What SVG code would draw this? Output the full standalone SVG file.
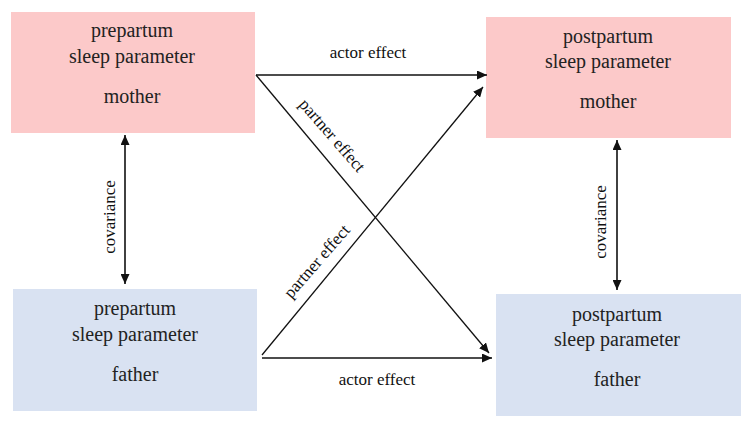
<svg xmlns="http://www.w3.org/2000/svg" width="750" height="426" viewBox="0 0 750 426">
<defs>
<style>
.bg{fill:#ffffff}
.pink{fill:#fcc9c9}
.blue{fill:#d9e2f2}
.t{font-family:'Liberation Serif','Times New Roman',serif;font-size:20px;fill:#222;text-anchor:middle}
.l{font-family:'Liberation Serif','Times New Roman',serif;font-size:17px;fill:#111;text-anchor:middle}
.c{stroke:#111;stroke-width:1.3;fill:none}
.cv{stroke:#111;stroke-width:1.6;fill:none}
</style>
<marker id="ah" viewBox="0 0 10 10" refX="10" refY="5" markerWidth="10" markerHeight="9" markerUnits="userSpaceOnUse" orient="auto-start-reverse" preserveAspectRatio="none">
<path d="M0,0 L10,5 L0,10 z" fill="#111"/>
</marker>
</defs>
<rect class="bg" x="0" y="0" width="750" height="426"/>
<g id="pre-mother">
<rect class="pink" x="11" y="12" width="244" height="121"/>
<text class="t" x="132" y="37">prepartum</text>
<text class="t" x="132" y="63">sleep parameter</text>
<text class="t" x="132" y="103">mother</text>
</g>
<g id="post-mother">
<rect class="pink" x="486" y="17" width="245" height="121"/>
<text class="t" x="608" y="43">postpartum</text>
<text class="t" x="608" y="68">sleep parameter</text>
<text class="t" x="608" y="108">mother</text>
</g>
<g id="pre-father">
<rect class="blue" x="13" y="289" width="244" height="122"/>
<text class="t" x="135" y="315">prepartum</text>
<text class="t" x="135" y="341">sleep parameter</text>
<text class="t" x="135" y="381">father</text>
</g>
<g id="post-father">
<rect class="blue" x="496" y="294" width="245" height="122"/>
<text class="t" x="617" y="321">postpartum</text>
<text class="t" x="617" y="346">sleep parameter</text>
<text class="t" x="617" y="386">father</text>
</g>
<g id="connectors">
<line class="c" x1="256" y1="75" x2="487" y2="75" marker-end="url(#ah)"/>
<line class="c" x1="262" y1="358" x2="492" y2="358" marker-end="url(#ah)"/>
<line class="c" x1="256" y1="75" x2="489" y2="353" marker-end="url(#ah)"/>
<line class="c" x1="262" y1="355" x2="483" y2="87" marker-end="url(#ah)"/>
<line class="cv" x1="125" y1="135" x2="125" y2="284" marker-start="url(#ah)" marker-end="url(#ah)"/>
<line class="cv" x1="617" y1="140" x2="617" y2="290" marker-start="url(#ah)" marker-end="url(#ah)"/>
<text class="l" x="368" y="58">actor effect</text>
<text class="l" x="377" y="385">actor effect</text>
<text class="l" transform="translate(328,139) rotate(49)">partner effect</text>
<text class="l" transform="translate(321,265) rotate(-49)">partner effect</text>
<text class="l" transform="translate(115,217) rotate(-90)">covariance</text>
<text class="l" transform="translate(606,222) rotate(-90)">covariance</text>
</g>
</svg>
